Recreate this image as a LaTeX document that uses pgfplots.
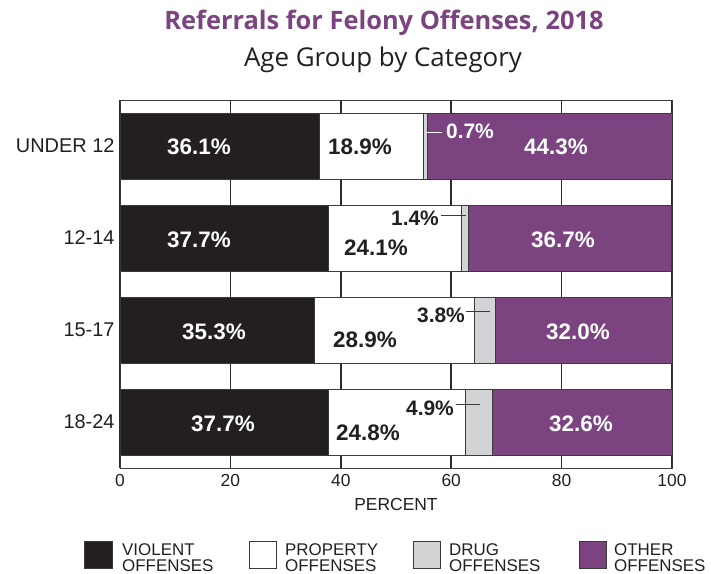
\documentclass[border=0pt]{standalone}
\usepackage{pgfplots}
\pgfplotsset{compat=1.18}
\usepackage{fontspec}
\setmainfont{Liberation Sans}
\newfontfamily\titlefont{Open Sans}
\definecolor{vio}{HTML}{231F20}
\definecolor{purp}{HTML}{7B4380}
\definecolor{drug}{HTML}{D1D3D4}
\definecolor{gridc}{HTML}{2B2B2B}
\definecolor{edge}{HTML}{3A3A3A}
\tikzset{lbl/.style={font=\bfseries\fontsize{22.5}{26}\selectfont, inner sep=0pt},
         lbs/.style={font=\bfseries\fontsize{21}{24}\selectfont, inner sep=0pt},
         lg/.style={font=\fontsize{17}{17}\selectfont, text=vio, anchor=base west, inner sep=0pt}}
\begin{document}
\begin{tikzpicture}
\useasboundingbox (0bp,0bp) rectangle (711bp,-574bp);
\node[text=purp,font=\titlefont\bfseries\fontsize{25.5}{30}\selectfont] at (384bp,-23bp) {Referrals for Felony Offenses, 2018};
\node[text=vio,font=\titlefont\fontsize{26}{30}\selectfont] at (383bp,-60bp) {Age Group by Category};
\begin{axis}[
  at={(120bp,-468bp)}, anchor=south west,
  scale only axis, width=552bp, height=368bp,
  xbar stacked, bar width=66bp,
  xmin=0, xmax=100, ymin=-0.5, ymax=3.5, y dir=reverse,
  ytick={0,1,2,3}, yticklabels={UNDER 12,12-14,15-17,18-24},
  xtick={0,20,40,60,80,100},
  major tick length=0pt,
  xmajorgrids, grid style={line width=1.6bp, color=gridc},
  axis line style={line width=1bp, color=edge},
  /pgf/number format/assume math mode=true,
  yticklabel style={font=\fontsize{20}{22}\selectfont, text=vio, xshift=-2bp},
  xticklabel style={font=\fontsize{17.5}{20}\selectfont, text=vio, yshift=-3bp},
  xlabel={PERCENT}, xlabel style={font=\fontsize{17.5}{20}\selectfont, text=vio, yshift=-5bp},
  clip=false,
]
\addplot[fill=vio, draw=edge, line width=0.8bp] coordinates {(36.1,0) (37.7,1) (35.3,2) (37.7,3)};
\addplot[fill=white, draw=edge, line width=0.8bp] coordinates {(18.9,0) (24.1,1) (28.9,2) (24.8,3)};
\addplot[fill=drug, draw=edge, line width=0.8bp] coordinates {(0.7,0) (1.4,1) (3.8,2) (4.9,3)};
\addplot[fill=purp, draw=edge, line width=0.8bp] coordinates {(44.3,0) (36.7,1) (32.0,2) (32.6,3)};
\end{axis}
% value labels
\node[lbl,text=white] at (199bp,-147bp) {36.1\%};
\node[lbl,text=white] at (199bp,-240bp) {37.7\%};
\node[lbl,text=white] at (214bp,-332bp) {35.3\%};
\node[lbl,text=white] at (223bp,-424bp) {37.7\%};
\node[lbl,text=vio] at (360bp,-147bp) {18.9\%};
\node[lbl,text=vio] at (376bp,-248bp) {24.1\%};
\node[lbl,text=vio] at (365bp,-340bp) {28.9\%};
\node[lbl,text=vio] at (368bp,-433bp) {24.8\%};
\node[lbs,text=white] at (470bp,-131bp) {0.7\%};
\node[lbs,text=vio] at (415bp,-218bp) {1.4\%};
\node[lbs,text=vio] at (441bp,-315bp) {3.8\%};
\node[lbs,text=vio] at (430bp,-408bp) {4.9\%};
\node[lbl,text=white] at (556bp,-147bp) {44.3\%};
\node[lbl,text=white] at (563bp,-240bp) {36.7\%};
\node[lbl,text=white] at (578bp,-332bp) {32.0\%};
\node[lbl,text=white] at (581bp,-424bp) {32.6\%};
\draw[white, line width=1bp] (426bp,-132bp) -- (442bp,-132bp);
\draw[edge, line width=1bp] (441bp,-215bp) -- (466bp,-215bp);
\draw[edge, line width=1bp] (466bp,-311bp) -- (490bp,-311bp);
\draw[edge, line width=1bp] (456bp,-404bp) -- (480bp,-404bp);
% legend
\draw[edge, line width=0.8bp, fill=vio] (84bp,-541bp) rectangle (112bp,-568bp);
\node[lg] at (122bp,-555bp) {VIOLENT};
\node[lg] at (122bp,-571bp) {OFFENSES};
\draw[edge, line width=0.8bp, fill=white] (249bp,-541bp) rectangle (276bp,-568bp);
\node[lg] at (285bp,-555bp) {PROPERTY};
\node[lg] at (285bp,-571bp) {OFFENSES};
\draw[edge, line width=0.8bp, fill=drug] (413bp,-541bp) rectangle (440bp,-568bp);
\node[lg] at (449bp,-555bp) {DRUG};
\node[lg] at (449bp,-571bp) {OFFENSES};
\draw[edge, line width=0.8bp, fill=purp] (579bp,-541bp) rectangle (606bp,-568bp);
\node[lg] at (614bp,-555bp) {OTHER};
\node[lg] at (614bp,-571bp) {OFFENSES};
\end{tikzpicture}
\end{document}
